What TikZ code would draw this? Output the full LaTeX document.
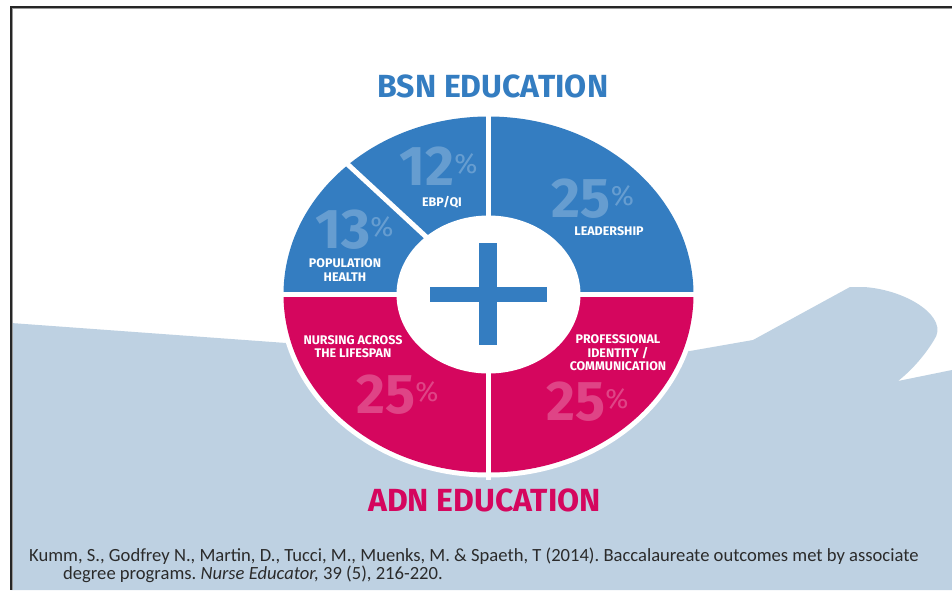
\documentclass[tikz,border=0pt]{standalone}
\usepackage{fontspec}
\setmainfont{Fira Sans}
\newfontfamily\citefont{Carlito}
\usepackage{xcolor}
\usepackage{tikz}
\usetikzlibrary{
    calc,
    positioning
}
\definecolor{bsnblue}{HTML}{347DC1}
\definecolor{adnred}{HTML}{D5065E}
\definecolor{wavegray}{HTML}{BED1E2}
\definecolor{citegray}{HTML}{2B2B2B}
\newcommand{\pctnum}[1]{{\fontsize{56}{56}\selectfont #1}\raisebox{12pt}{\fontsize{28}{28}\selectfont\mdseries\%}}
\frenchspacing

\begin{document}
\begin{tikzpicture}[x=1pt, y=1pt]
    \tikzstyle{headline}=[font=\bfseries\fontsize{32}{32}\selectfont, inner sep=0pt]
    \tikzstyle{pct}=[font=\bfseries, text=white, text opacity=0.25, anchor=base, inner sep=0pt]
    \tikzstyle{lbl}=[font=\bfseries\fontsize{12.5}{13.5}\selectfont, text=white, align=center, inner sep=0pt]
    \tikzstyle{citeline}=[font=\citefont\fontsize{18.6}{18.6}\selectfont, text=citegray, anchor=base west, inner sep=0pt]
    \tikzstyle{gap}=[draw=white, line width=5pt]
    \useasboundingbox (0, 0) rectangle (952, -590);
	\fill[white] (0, 0) rectangle (952, -590);

	% background wave
	\fill[wavegray] (11, -323) -- (300, -344) -- (690, -351) -- (753, -340) -- (850, -287) -- (864, -287)
	    .. controls (908, -290) and (950, -318) .. (934, -340)
	    .. controls (925, -355) and (912, -370) .. (898, -381)
	    -- (952, -370) -- (952, -590) -- (11, -590) -- cycle;

	% frame
	\draw[black!40, line width=1pt] (12.5, -590) -- (12.5, -8.5) -- (952, -8.5);
	\draw[black!85, line width=1.4pt] (11, -590) -- (11, -7) -- (952, -7);

	% donut
	\coordinate (C) at (488.5, -294.5);
	\fill[white] (C) ellipse [x radius=210, y radius=183];
	\fill[bsnblue] ($(C)+(205, 0)$) arc [start angle=0, end angle=180, x radius=205, y radius=178] -- cycle;
	\fill[adnred] ($(C)+(-205, 0)$) arc [start angle=180, end angle=360, x radius=205, y radius=178] -- cycle;
	\draw[gap] ($(C)+(-212, 0)$) -- ($(C)+(212, 0)$);
	\draw[gap] ($(C)+(0, 185)$) -- ($(C)+(0, -185)$);
	\draw[gap] (C) -- ($(C)+(133.2:212 and 184)$);
	\fill[white] (C) ellipse [x radius=92, y radius=79];

	% plus
	\fill[bsnblue] (479, -243) rectangle (497, -345);
	\fill[bsnblue] (430, -287) rectangle (547, -302);

	% headings
	\node[headline, text=bsnblue] (bsn) at (493, -86) {BSN EDUCATION};
	\node[headline, text=adnred] (adn) at (484.5, -500) {ADN EDUCATION};

	% percentages
	\node[pct] (lead) at (593, -217) {\pctnum{25}};
	\node[pct] (ebp) at (438.5, -185) {\pctnum{12}};
	\node[pct] (pop) at (354.5, -248) {\pctnum{13}};
	\node[pct] (nurs) at (397.5, -413) {\pctnum{25}};
	\node[pct] (prof) at (587.5, -420) {\pctnum{25}};

	% segment labels
	\node[lbl] (leadlbl) at (609, -231.5) {LEADERSHIP};
	\node[lbl] (ebplbl) at (442, -202.5) {EBP/QI};
	\node[lbl] (poplbl) at (345, -270) {POPULATION\\ HEALTH};
	\node[lbl] (nurslbl) at (353, -346.5) {NURSING ACROSS\\ THE LIFESPAN};
	\node[lbl] (proflbl) at (618, -353) {PROFESSIONAL\\ IDENTITY /\\ COMMUNICATION};

	% citation
	\node[citeline] (cite1) at (29, -561.5)
	    {Kumm, S., Godfrey N., Martin, D., Tucci, M., Muenks, M. \& Spaeth, T (2014). Baccalaureate outcomes met by associate};
	\node[citeline] (cite2) at (63, -579.5)
	    {degree programs. \textit{Nurse Educator,} 39 (5), 216-220.};
\end{tikzpicture}
\end{document}
